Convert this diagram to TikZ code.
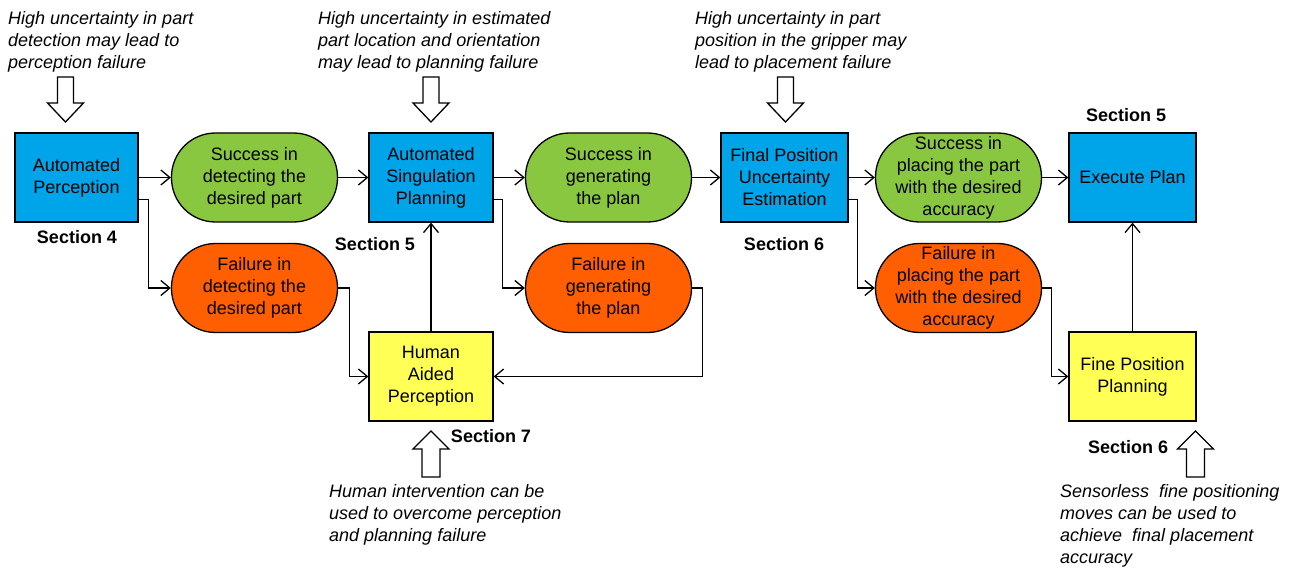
\documentclass[tikz,border=0pt]{standalone}
\usepackage{fontspec}
\setmainfont{Liberation Sans}
\usetikzlibrary{arrows.meta,calc}
\definecolor{boxblue}{RGB}{0,164,232}
\definecolor{okgreen}{RGB}{137,199,65}
\definecolor{failorange}{RGB}{255,95,0}
\definecolor{humyellow}{RGB}{255,255,85}
\tikzset{
  txt/.style={font=\fontsize{18}{22}\selectfont, align=center, inner sep=0pt},
  procbox/.style={txt, draw=black, line width=1.3pt, minimum height=89pt},
  bluebox/.style={procbox, fill=boxblue},
  yellowbox/.style={procbox, fill=humyellow},
  pill/.style={procbox, rounded corners=44pt, minimum width=166pt},
  okpill/.style={pill, fill=okgreen},
  failpill/.style={pill, fill=failorange},
  sect/.style={font=\fontsize{18}{22}\selectfont\bfseries, inner sep=0pt},
  note/.style={font=\fontsize{18}{22}\selectfont\itshape, align=left, inner sep=0pt, anchor=north west},
  conn/.style={line width=1.3pt, -{Straight Barb[length=9pt,width=15pt,line width=1.3pt]}},
  hollow/.style={draw=black, fill=white, line width=1.3pt, line join=miter},
  downarrow/.pic={\path[hollow] (-8,0) -- (8,0) -- (8,26) -- (18,26) -- (0,45) -- (-18,26) -- (-8,26) -- cycle;},
  uparrow/.pic={\path[hollow] (-9,0) -- (9,0) -- (9,-28) -- (18,-28) -- (0,-46) -- (-18,-28) -- (-9,-28) -- cycle;}
}
\begin{document}
\begin{tikzpicture}[x=1pt,y=-1pt]
\useasboundingbox (0,0) rectangle (1298,569);

% main nodes
\node[bluebox, minimum width=123pt] (AP) at (76.5,177.5) {Automated\\Perception};
\node[okpill] (S1) at (254.5,177.5) {Success in\\detecting the\\desired part};
\node[failpill] (F1) at (254.5,288) {Failure in\\detecting the\\desired part};
\node[bluebox, minimum width=124pt] (ASP) at (431,177.5) {Automated\\Singulation\\Planning};
\node[okpill] (S2) at (608.5,177.5) {Success in\\generating\\the plan};
\node[failpill] (F2) at (608.5,288) {Failure in\\generating\\the plan};
\node[yellowbox, minimum width=124pt] (HAP) at (431,376.5) {Human\\Aided\\Perception};
\node[bluebox, minimum width=127pt] (FPUE) at (784.5,177.5) {Final Position\\Uncertainty\\Estimation};
\node[okpill] (S3) at (958.5,177.5) {Success in\\placing the part\\with the desired\\accuracy};
\node[failpill] (F3) at (958.5,288) {Failure in\\placing the part\\with the desired\\accuracy};
\node[bluebox, minimum width=127pt] (EP) at (1132.5,177.5) {Execute Plan};
\node[yellowbox, minimum width=127pt] (FPP) at (1132.5,376.5) {Fine Position\\Planning};

% section labels
\node[sect] (sec4) at (77,237) {Section 4};
\node[sect] (sec5a) at (375,244) {Section 5};
\node[sect] (sec7) at (491,436.5) {Section 7};
\node[sect] (sec6a) at (784,244) {Section 6};
\node[sect] (sec5b) at (1126,115) {Section 5};
\node[sect] (sec6b) at (1128,447.5) {Section 6};

% notes
\node[note] (n1) at (8,11) {High uncertainty in part\\detection may lead to\\perception failure};
\node[note] (n2) at (318,11) {High uncertainty in estimated\\part location and orientation\\may lead to planning failure};
\node[note] (n3) at (695,11) {High uncertainty in part\\position in the gripper may\\lead to placement failure};
\node[note] (n4) at (329,484) {Human intervention can be\\used to overcome perception\\and planning failure};
\node[note] (n5) at (1060,484) {Sensorless\ \ fine positioning\\moves can be used to\\achieve\ \ final placement\\accuracy};

% hollow arrows
\pic at (65.5,77) {downarrow};
\pic at (431,77) {downarrow};
\pic at (785.5,77) {downarrow};
\pic at (431,477) {uparrow};
\pic at (1195.5,477) {uparrow};

% connectors
\draw[conn] (AP.east) -- (S1.west);
\draw[conn] ($(AP.east)+(0,22)$) -- ++(10,0) |- (F1.west);
\draw[conn] (S1.east) -- (ASP.west);
\draw[conn] (F1.east) -- ++(11,0) |- (HAP.west);
\draw[conn] (HAP.north) -- (ASP.south);
\draw[conn] (ASP.east) -- (S2.west);
\draw[conn] ($(ASP.east)+(0,22)$) -- ++(9,0) |- (F2.west);
\draw[conn] (F2.east) -- ++(10,0) |- (HAP.east);
\draw[conn] (S2.east) -- (FPUE.west);
\draw[conn] (FPUE.east) -- (S3.west);
\draw[conn] ($(FPUE.east)+(0,22)$) -- ++(9,0) |- (F3.west);
\draw[conn] (S3.east) -- (EP.west);
\draw[conn] (F3.east) -- ++(9,0) |- (FPP.west);
\draw[conn] (FPP.north) -- (EP.south);
\end{tikzpicture}
\end{document}
